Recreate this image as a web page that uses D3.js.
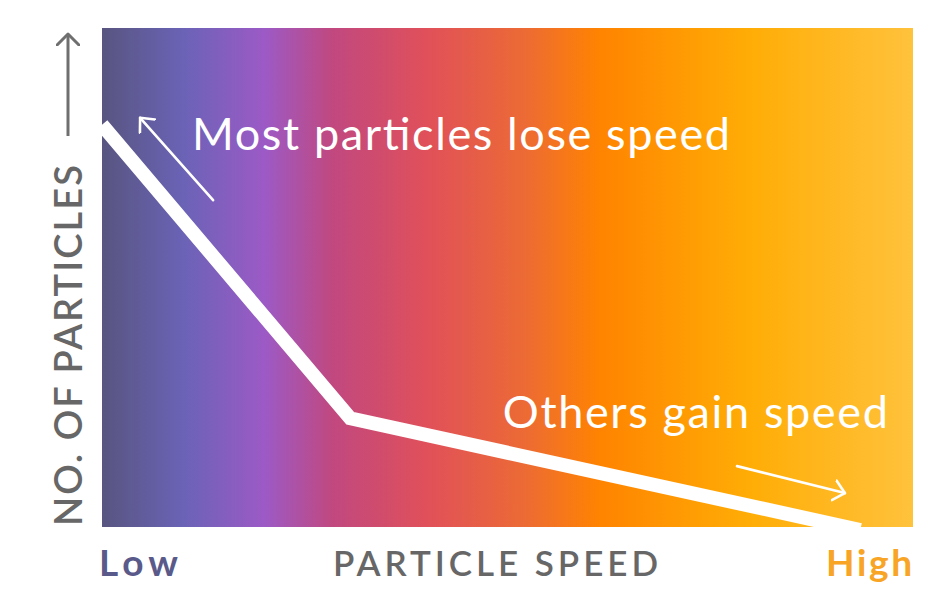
<!DOCTYPE html>
<html><head><meta charset="utf-8">
<script src="https://cdn.jsdelivr.net/npm/d3@7"></script>
<style>html,body{margin:0;padding:0;background:#fff;}svg{display:block;}</style>
</head><body>
<script>
// ---- data ----
const speed = [0, 0.306, 0.935];           // x (relative particle speed)
const particles = [0.806, 0.218, -0.006];  // y (relative number of particles)
const gradientColors = ["#585580","#6a63b6","#9c5ac6","#c1487f","#e0505a","#ec6a35","#ff8400","#ffad06","#ffc23c"];
const gradientOffsets = [0, 0.1, 0.2, 0.285, 0.4, 0.52, 0.615, 0.8, 1];
const xAxisLabels = ["Low", "PARTICLE SPEED", "High"];
const yAxisLabel = "NO. OF PARTICLES";
const noteTexts = ["Most particles lose speed", "Others gain speed"];
const noteX = [0.111, 0.969];
const noteY = [0.755, 0.198];
const arrowFromX = [0.137, 0.783];
const arrowFromY = [0.655, 0.122];
const arrowToX = [0.047, 0.916];
const arrowToY = [0.82, 0.068];

// ---- chart ----
const W = 950, H = 606;
const m = {left: 102, right: 37, top: 28, bottom: 79};
const svg = d3.select("body").append("svg").attr("width", W).attr("height", H);
const x = d3.scaleLinear().domain([0, 1]).range([m.left, W - m.right]);
const y = d3.scaleLinear().domain([0, 1]).range([H - m.bottom, m.top]);

const defs = svg.append("defs");
const grad = defs.append("linearGradient").attr("id", "bg").attr("x1", "0").attr("x2", "1").attr("y1", "0").attr("y2", "0");
gradientColors.forEach((c, i) => grad.append("stop").attr("offset", gradientOffsets[i]).attr("stop-color", c));
defs.append("clipPath").attr("id", "clip").append("rect")
  .attr("x", x(0)).attr("y", y(1)).attr("width", x(1) - x(0)).attr("height", y(0) - y(1));
defs.append("marker").attr("id", "chev").attr("viewBox", "-12 -12 24 24")
  .attr("markerWidth", 24).attr("markerHeight", 24).attr("markerUnits", "userSpaceOnUse")
  .attr("refX", 0).attr("refY", 0).attr("orient", "auto")
  .append("path").attr("d", "M-11,-10 L0,0 L-11,10").attr("fill", "none")
  .attr("stroke", "#fff").attr("stroke-width", 2.6).attr("stroke-linecap", "round").attr("stroke-linejoin", "round");
defs.append("marker").attr("id", "chevGray").attr("viewBox", "-12 -12 24 24")
  .attr("markerWidth", 24).attr("markerHeight", 24).attr("markerUnits", "userSpaceOnUse")
  .attr("refX", 0).attr("refY", 0).attr("orient", "auto")
  .append("path").attr("d", "M-11,-11 L0,0 L-11,11").attr("fill", "none")
  .attr("stroke", "#6f6f6f").attr("stroke-width", 3).attr("stroke-linecap", "round").attr("stroke-linejoin", "round");

svg.append("rect").attr("x", x(0)).attr("y", y(1)).attr("width", x(1) - x(0)).attr("height", y(0) - y(1))
  .attr("fill", "url(#bg)");

const pts = speed.map((s, i) => [s, particles[i]]);
const line = d3.line().x(d => x(d[0])).y(d => y(d[1]));
svg.append("path").datum(pts).attr("d", line).attr("clip-path", "url(#clip)")
  .attr("fill", "none").attr("stroke", "#fff").attr("stroke-width", 14).attr("stroke-linejoin", "miter");

// annotations
const font = "Lato, 'Open Sans', sans-serif";
const noteLen = [538, 385];
svg.selectAll("text.note").data(noteTexts).join("text").attr("class", "note")
  .attr("x", (d, i) => i === 0 ? x(noteX[i]) : x(noteX[i]) - noteLen[i]).attr("y", (d, i) => y(noteY[i]))
  .attr("textLength", (d, i) => noteLen[i]).attr("lengthAdjust", "spacing")
  .attr("fill", "#fff").attr("font-family", font).attr("font-size", 45).text(d => d);
svg.selectAll("line.arrow").data(arrowFromX).join("line").attr("class", "arrow")
  .attr("x1", (d, i) => x(arrowFromX[i])).attr("y1", (d, i) => y(arrowFromY[i]))
  .attr("x2", (d, i) => x(arrowToX[i])).attr("y2", (d, i) => y(arrowToY[i]))
  .attr("stroke", "#fff").attr("stroke-width", 2.6).attr("stroke-linecap", "round")
  .attr("marker-end", "url(#chev)");

// axis labels
const ax = svg.append("g").attr("font-family", font).attr("font-weight", 700).attr("font-size", 37);
ax.append("text").attr("x", 99).attr("y", 576).attr("fill", "#5a5a8a")
  .attr("textLength", 79).attr("lengthAdjust", "spacing").text(xAxisLabels[0]);
ax.append("text").attr("x", 333).attr("y", 576).attr("fill", "#676767").attr("font-weight", 600)
  .attr("font-size", 35).attr("textLength", 325).attr("lengthAdjust", "spacing").text(xAxisLabels[1]);
ax.append("text").attr("x", 826).attr("y", 576).attr("fill", "#f8a424")
  .attr("textLength", 86).attr("lengthAdjust", "spacing").text(xAxisLabels[2]);
ax.append("text").attr("transform", "translate(82," + (y(0) - 1) + ") rotate(-90)")
  .attr("fill", "#676767").attr("font-weight", 600).attr("font-size", 38)
  .attr("textLength", 361).attr("lengthAdjust", "spacing").text(yAxisLabel);
svg.append("line").attr("x1", 68).attr("y1", 136).attr("x2", 68).attr("y2", 34)
  .attr("stroke", "#6f6f6f").attr("stroke-width", 3).attr("marker-end", "url(#chevGray)");
</script>
</body></html>
